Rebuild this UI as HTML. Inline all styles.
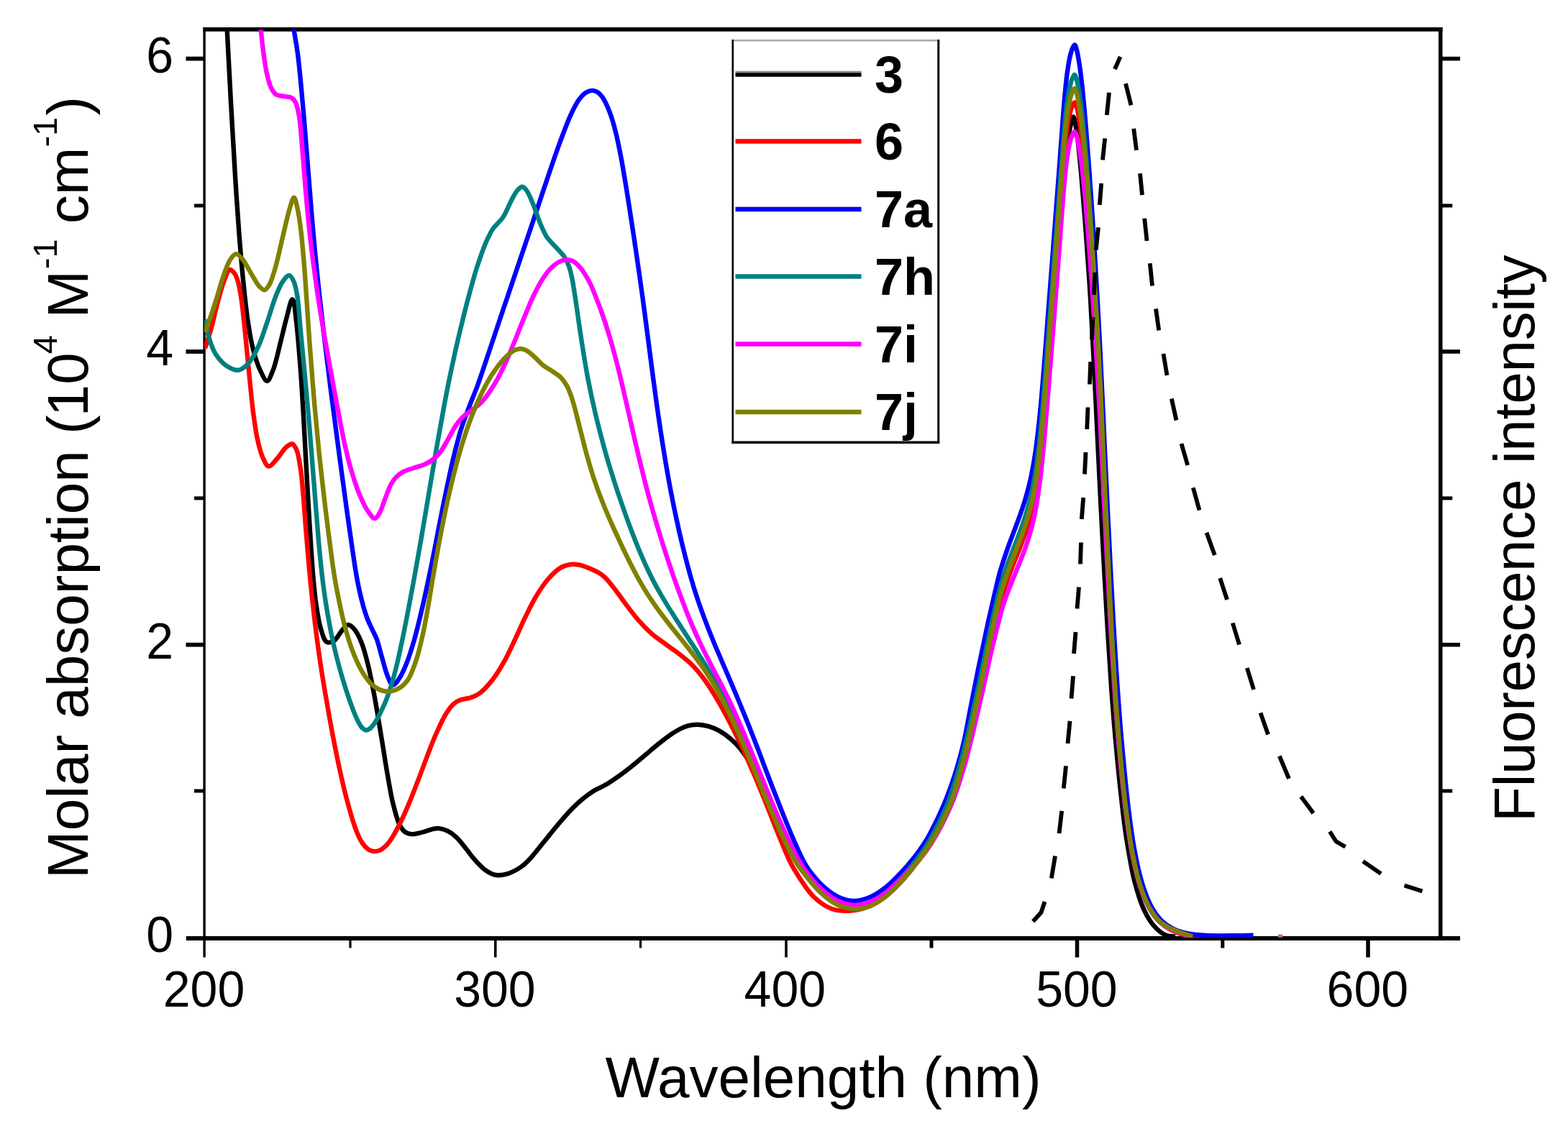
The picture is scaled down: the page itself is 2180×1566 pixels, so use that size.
<!DOCTYPE html>
<html lang="en"><head><meta charset="utf-8"><title>Absorption and fluorescence spectra</title>
<style>
html,body{margin:0;padding:0;background:#fff;}
body{width:2180px;height:1566px;overflow:hidden;}
svg{display:block;filter:blur(0.75px);}
text{font-family:"Liberation Sans",sans-serif;fill:#000;}
.tick{font-size:68px;}
.title{font-size:80px;}
.leg{font-size:72px;font-weight:bold;}
.crv{fill:none;stroke-width:6.4;stroke-linejoin:round;stroke-linecap:butt;}
.dash{fill:none;stroke:#000;stroke-width:5.8;stroke-linecap:butt;stroke-linejoin:round;}
.ax{stroke:#000;fill:none;}
</style></head><body>
<svg width="2180" height="1566" viewBox="0 0 2180 1566">
<rect width="2180" height="1566" fill="#fff"/>
<defs><clipPath id="plot"><rect x="284" y="41.5" width="1718.8" height="1262.8"/></clipPath></defs>
<g class="ax">
<line x1="282.5" y1="40.9" x2="2005.5" y2="40.9" stroke-width="5.75"/>
<line x1="258.75" y1="1305.0" x2="2030" y2="1305.0" stroke-width="6"/>
<line x1="284.1" y1="38" x2="284.1" y2="1331.5" stroke-width="3.4"/>
<line x1="2002.75" y1="38" x2="2002.75" y2="1308" stroke-width="5.5"/>
<line x1="258.5" y1="81.6" x2="284" y2="81.6" stroke-width="5.8"/>
<line x1="2004" y1="81.6" x2="2030" y2="81.6" stroke-width="5.6"/>
<line x1="258.5" y1="489.0" x2="284" y2="489.0" stroke-width="5.8"/>
<line x1="2004" y1="489.0" x2="2030" y2="489.0" stroke-width="5.6"/>
<line x1="258.5" y1="896.7" x2="284" y2="896.7" stroke-width="5.8"/>
<line x1="2004" y1="896.7" x2="2030" y2="896.7" stroke-width="5.6"/>
<line x1="270" y1="286.0" x2="284" y2="286.0" stroke-width="5"/>
<line x1="2004" y1="286.0" x2="2019.25" y2="286.0" stroke-width="5"/>
<line x1="270" y1="692.9" x2="284" y2="692.9" stroke-width="5"/>
<line x1="2004" y1="692.9" x2="2019.25" y2="692.9" stroke-width="5"/>
<line x1="270" y1="1100.0" x2="284" y2="1100.0" stroke-width="5"/>
<line x1="2004" y1="1100.0" x2="2019.25" y2="1100.0" stroke-width="5"/>
<line x1="688.75" y1="1306" x2="688.75" y2="1331.5" stroke-width="3.6"/>
<line x1="1093.0" y1="1306" x2="1093.0" y2="1331.5" stroke-width="3.6"/>
<line x1="1497.5" y1="1306" x2="1497.5" y2="1331.5" stroke-width="5.5"/>
<line x1="1902.0" y1="1306" x2="1902.0" y2="1331.5" stroke-width="5.5"/>
<line x1="487.0" y1="1306" x2="487.0" y2="1318.5" stroke-width="3.2"/>
<line x1="890.5" y1="1306" x2="890.5" y2="1318.5" stroke-width="3.2"/>
<line x1="1295.0" y1="1306" x2="1295.0" y2="1318.5" stroke-width="5"/>
<line x1="1699.8" y1="1306" x2="1699.8" y2="1318.5" stroke-width="5"/>
</g>
<g clip-path="url(#plot)">
<path id="c3" class="crv" stroke="#000000" d="M315.5 38C316.5 57 317.4 74.7 318.5 95C319.7 118.3 321.1 145 322.6 170C324 195 325.4 220 327 245C328.5 270 330.2 295.1 332.1 320C334 345.1 336.2 372 338.6 395C340.6 414.7 342.5 433.2 345.1 449.7C347.2 463.5 349.3 476 352.3 487.5C355 497.4 357.9 507 361.6 514.6C364.5 520.6 368.3 529.9 371.3 529.8C374.3 529.8 377.1 521.1 379.7 514.6C383.7 504.7 387 487.5 390.3 474.9C393.2 463.5 395.6 452.4 398.4 442.2C400.9 433 404.2 416.8 406.2 416.4C406.8 416.2 407.4 417.2 407.9 418.4C409.8 422.5 410.8 437.3 412.2 449.5C414.1 466.7 416.1 491.1 417.7 512C419.3 532.8 420.4 553.6 421.7 574.5C422.9 595.3 423.9 615.2 425.1 637C426.5 660.9 427.8 685.8 429.4 712C431.2 741.2 433.5 780.1 435.6 804.1C436.9 819.4 437.8 829.7 439.7 841.8C441.4 853.2 443.2 865.6 446.1 874.8C448.4 881.9 450.3 890.8 454.2 892.9C457 894.4 461.4 892.9 464.5 891.1C468.4 888.7 471.3 881.7 474.7 877.8C477.8 874.4 480.8 869.2 483.9 869C486.8 868.8 490 872.1 492.7 875.1C496.5 879.4 499.7 886.6 502.6 893.7C506.1 902.3 508.8 913.1 511.4 923.5C514.2 934.7 516.5 947 518.8 958.7C521.1 970.4 523 981.8 525.1 994C527.3 1006.9 529.5 1020.4 531.7 1034.1C534.1 1048.7 536.5 1064.9 539.1 1079.2C541.4 1092.4 543.4 1105.4 546.3 1117C548.7 1127 551.2 1137.5 554.5 1144.6C556.9 1149.7 559.2 1154 562.4 1156.6C565.2 1158.8 568.4 1159.8 572 1160.1C576.4 1160.5 582.2 1158.6 587 1157.5C591.7 1156.3 596.4 1154.2 600.5 1153.3C604 1152.6 606.9 1151.8 610.3 1152.1C614.1 1152.4 618.4 1153.8 622.3 1155.7C626.5 1157.7 630.5 1160.7 634.4 1164.3C639 1168.5 643.3 1174.6 647.5 1179.8C651.7 1184.9 655.2 1190.3 659.7 1195.2C664.4 1200.5 669.8 1206.6 675.2 1210.3C679.9 1213.6 684.7 1216.3 690 1217C695.3 1217.8 701.4 1216.5 707.1 1214.7C713.2 1212.7 720.3 1208.5 725.3 1205C729.4 1202.2 731.6 1199.9 735.3 1196C741 1190.1 748.7 1180 755.4 1171.8C762.1 1163.6 768.9 1154.9 775.6 1147C782 1139.5 788.5 1131.9 794.6 1125.6C799.9 1120.2 804.6 1115.6 809.9 1111.3C814.9 1107.1 820 1103.2 825.4 1099.9C830.7 1096.7 836.6 1094.7 841.9 1091.6C847.3 1088.5 852 1085.2 857.4 1081.4C863.7 1077 871 1071.4 877.4 1066.4C883.5 1061.5 889.3 1056.6 895.1 1051.7C900.9 1046.9 906.4 1042 912.2 1037.3C918 1032.6 924 1027.6 929.8 1023.6C935 1019.9 940.2 1016.5 945.1 1014C949.3 1011.9 953.3 1010.2 957.5 1009.2C961.6 1008.2 965.7 1007.7 970.1 1007.8C974.9 1007.9 980.2 1008.8 985.1 1010.2C990.1 1011.6 995.1 1013.8 1000 1016.4C1005.2 1019.3 1010.7 1023.2 1015.4 1027.2C1020 1031 1024.3 1035.3 1028 1039.7C1031.6 1044 1034.6 1048.2 1037.6 1052.9C1040.7 1057.9 1043.1 1062.7 1046.1 1068.9C1050.1 1077.2 1054.7 1088.8 1059 1098.8M1377 895C1381.6 875.4 1387.8 848.2 1390.9 836.2C1392.3 830.9 1392.8 829.2 1394.2 824.8C1396.2 818.4 1399.4 809.2 1402.1 801.7C1404.7 794.6 1407.4 787.9 1410.1 780.9C1412.9 773.8 1415.9 766.7 1418.7 759.3C1421.6 751.7 1424.5 744.1 1427.1 735.9C1429.9 727.1 1432.6 717.7 1434.9 708C1437.4 697.5 1439.4 686.9 1441.2 675.3C1443.3 662.2 1445 647.6 1446.7 633.2C1448.4 618 1449.7 602.9 1451.1 586.4C1452.8 568 1454.4 547.4 1455.9 527.9C1457.5 508.4 1459 488.2 1460.4 469.4C1461.8 451.8 1462.9 436.8 1464.3 418.4C1465.8 396.9 1467.7 369.2 1469.2 348.2C1470.4 331 1471.3 317 1472.4 301.4C1473.6 285.8 1474.7 269.7 1476.3 254.6C1477.8 240.2 1479.3 226.5 1481.5 212.7C1483.6 199 1486.7 180.9 1489 172.1C1490.2 167.7 1491.4 162.3 1492.4 162.4C1493.7 162.5 1494.9 171.4 1496.1 177.9C1497.9 188.4 1499.5 203.9 1501.1 220C1503.3 241.4 1505.5 269.9 1507.5 294.9C1509.5 319.9 1511.6 348.5 1513 369.9C1514.2 386 1514.8 396 1515.8 412.1C1517 433.5 1518.5 460.2 1519.9 487C1521.5 517.9 1523.3 556.1 1524.8 587C1526.1 613.8 1527.2 637 1528.4 662C1529.6 687 1530.9 712.7 1532.2 737C1533.4 760 1534.5 781.1 1535.8 804C1537.2 828.3 1538.6 854 1540.1 879C1541.6 904 1543.1 929 1544.9 954C1546.7 979 1548.6 1004 1550.9 1029C1553.1 1054 1555.8 1081.4 1558.3 1103.9C1560.3 1122.3 1562.4 1140.1 1564.3 1154.1C1565.7 1164.3 1566.7 1170.5 1568.4 1180.3C1570.7 1193.1 1573.4 1210.3 1577 1224.3C1580.4 1237.4 1584.1 1251 1589 1262C1593.2 1271.4 1597.9 1280.1 1603.6 1286.8C1608.5 1292.6 1614.7 1298 1620.4 1300.5C1624.9 1302.5 1629.5 1301.8 1634 1302.5"/>
<path id="c6" class="crv" stroke="#ff0000" d="M285 484.5C287.9 475.2 291.1 466.1 293.7 456.6C296.5 446.8 298.4 436.8 301.1 426.6C304 415.7 307.1 402.4 310.7 393.1C313.4 386 316.3 375.9 319.4 375.1C321.3 374.6 323.6 377.3 325.3 379.3C327.4 381.8 328.9 385.5 330.3 389.7C332.3 395.6 333.5 403.4 334.9 411.7C336.7 422.6 338 436.3 339.4 449.4C341 463.8 342.4 479.3 343.9 494.5C345.4 510.1 347.1 527.7 348.6 542C349.8 554 350.7 563.7 352.2 574.8C353.8 586.3 355.4 599.2 357.7 609.9C359.7 619.1 361.8 628.2 364.9 635.2C367.3 640.5 370.1 648.1 373.5 648.6C376.8 649 381.3 642.1 385.1 638C389.6 633.2 394 625 398.3 621.6C401.1 619.3 404.3 616.7 406.6 617.3C409.1 618 410.8 622.2 412.5 626.1C415 632.3 416.4 642.4 417.8 651.6C419.5 662.3 420.3 674 421.4 686.8C422.8 702.1 423.8 719.1 425.3 737C427 757.7 429 782.1 431.1 804C433.2 825.2 435.5 846.8 437.9 866.5C440 884.1 442.2 899.9 444.6 916.6C447 933.2 449.7 949.8 452.6 966.5C455.4 983.2 458.4 1000 461.5 1016.7C464.7 1033.4 468 1050.5 471.5 1066.7C474.9 1082.2 478.1 1097 482.1 1111.7C485.9 1126.1 490.6 1143.1 494.9 1154.1C497.8 1161.6 500.3 1167.5 503.7 1172.3C506.2 1176 509.1 1179.3 512.1 1181.3C514.6 1182.9 517.3 1183.9 519.9 1184.1C522.5 1184.3 525.3 1183.7 527.9 1182.6C530.8 1181.4 533.6 1179.1 536.3 1176.5C539.6 1173.3 542.4 1169.2 545.5 1164.4C549.6 1158.2 553.8 1149.7 557.8 1141.7C562 1133 566 1123.7 570 1114C574.3 1103.7 578.5 1092.4 582.7 1081.6C586.8 1070.7 590.9 1059.4 594.9 1049C598.7 1039.2 602.1 1030.1 606.2 1020.8C610.4 1011.6 615.1 1001 619.6 993.5C623.1 987.8 626.3 982.8 630.2 979.3C633.2 976.6 636.1 975.1 639.9 973.6C644.3 971.8 650.4 971.8 655.1 970.1C659.6 968.5 663.3 966.9 667.5 963.7C673.3 959.4 680 951.5 685.4 944.5C690.9 937.5 695.3 930 700 921.7C705.3 912.5 710.1 901.8 715 891.6C720.1 880.9 724.9 869.3 730 858.9C734.8 849.2 739.1 839.9 744.4 830.9C749.7 822.1 755.6 812.7 761.9 805.5C767.5 799.2 773.7 792.8 779.7 789.4C784.5 786.7 789.7 785.4 794.2 784.9C798.1 784.4 801.2 784.8 805.1 785.6C809.8 786.5 815.5 788.6 820.5 790.7C825.5 792.8 831.2 795.6 835.1 798.2C838.1 800.1 839.6 801.5 842.3 804.2C846.5 808.4 851.9 815.7 856.7 822C862 828.8 867.4 836.8 872.8 843.9C877.9 850.6 882.8 857.3 888.3 863.4C893.7 869.6 899.4 875.4 905.5 880.8C911.7 886.2 918.8 891 925.4 895.9C931.8 900.7 938.4 905 944.6 909.8C950.6 914.5 956.5 919 962 924.5C967.7 930.2 973 936.7 978.1 943.5C983.4 950.5 988.3 958.2 993.1 966.1C998.2 974.2 1003 983 1007.6 991.4C1012.1 999.7 1016.3 1007.9 1020.5 1016.3C1024.6 1024.6 1028.6 1032.8 1032.6 1041.5C1036.7 1050.4 1040.8 1059.6 1044.9 1069C1049.2 1078.8 1053.5 1088.9 1057.6 1099C1061.7 1109 1065.7 1119 1069.7 1129.1C1073.8 1139.2 1077.4 1148.8 1081.7 1159.3C1086.5 1170.9 1092.4 1186.1 1097.1 1195.8C1100.4 1202.5 1102.2 1206.1 1106.3 1212.5C1112.4 1222.3 1122.5 1238.8 1131.9 1247.8C1139.6 1255.1 1147.9 1261 1156.7 1264.1C1165 1267 1174.3 1267.2 1182.9 1266.6C1191.3 1266 1199.7 1264.1 1207.5 1260.9C1215.5 1257.8 1222.9 1253.1 1230.2 1247.6C1238.3 1241.6 1246.1 1233.6 1253.6 1225.5C1261.5 1217 1269.5 1206.8 1276.3 1197.7C1282.4 1189.7 1287 1183.8 1292.9 1174.1C1301.4 1159.9 1313 1138.9 1320.8 1119.6C1329 1099.3 1334 1079 1340.5 1054.9C1348.5 1024.9 1357.7 982.6 1364.3 953.4C1369.3 931.3 1372.5 914.5 1377 895C1381.4 875.4 1387.8 848.2 1390.9 836.2C1392.3 830.9 1392.8 829.2 1394.2 824.8C1396.2 818.4 1399.4 809.2 1402.1 801.7C1404.7 794.6 1407.4 787.9 1410.1 780.9C1412.9 773.8 1415.9 766.7 1418.7 759.3C1421.6 751.7 1424.5 744.1 1427.1 735.9C1429.9 727.1 1432.6 717.7 1434.9 708C1437.4 697.5 1439.4 686.9 1441.2 675.3C1443.3 662.2 1445.1 647.6 1446.7 633.2C1448.4 618 1449.7 602.9 1451.1 586.4C1452.8 568 1454.3 547.4 1455.9 527.9C1457.4 508.4 1459 488.2 1460.4 469.4C1461.7 451.8 1462.9 436.8 1464.3 418.4C1465.9 396.9 1468 369.2 1469.6 348.2C1470.9 331 1471.9 317 1473.1 301.4C1474.2 285.8 1475.4 269.8 1476.6 254.6C1477.7 240.2 1478.7 225.6 1480 212.5C1481.1 200.9 1482.1 189.5 1483.6 179.7C1484.7 171.6 1486 164 1487.5 157.8C1488.7 153.1 1490.2 148.3 1491.6 145.6C1492.4 144.1 1493.3 142.3 1494.1 142.4C1495.2 142.5 1496.1 146.1 1497 149.1C1498.7 154.5 1500.2 164.7 1501.4 172.6C1502.7 180.4 1503.6 188.3 1504.5 196.1C1505.4 203.9 1506.2 211.4 1507 219.6C1507.9 228.5 1508.6 237.3 1509.5 247.6C1510.6 260.2 1511.8 275.3 1512.9 289.7C1514.1 304.9 1515.3 322 1516.3 336.5C1517.2 349 1517.9 359.1 1518.7 371.6C1519.6 386.1 1520.7 402.5 1521.6 418.4C1522.6 434.9 1523.6 451.4 1524.6 468.9C1525.6 487.8 1526.9 510.7 1527.8 527.9C1528.5 541.1 1528.9 549.8 1529.6 563C1530.4 580 1531.4 602 1532.3 621.4C1533.2 640.9 1534.2 662.9 1535 679.9C1535.6 693.1 1536.1 702.5 1536.7 715C1537.4 729.5 1538.1 745.3 1539 761.8C1539.9 780.2 1541.1 804.4 1541.9 820.3C1542.4 831.2 1542.7 837 1543.3 847.9C1544.2 863.8 1545.4 886 1546.6 906.4C1547.9 928.7 1549.5 954.2 1551.1 976.5C1552.6 996.9 1554 1015.5 1555.8 1035C1557.5 1054.5 1559.4 1075.1 1561.4 1093.6C1563.2 1110.1 1564.8 1124.9 1567 1140.5C1569.1 1156.2 1571.4 1172.3 1574.3 1187.5C1577.2 1202 1580.2 1216.7 1584.4 1229.6C1588.1 1241.2 1592.3 1252.5 1597.4 1261.6C1601.7 1269.4 1606.5 1276.2 1612.1 1281.7C1617.2 1286.8 1622.9 1290.8 1629.1 1294C1635.5 1297.3 1643 1299.8 1649.8 1301.1C1655.9 1302.3 1661.9 1301.7 1668 1302"/>
<path id="c7a" class="crv" stroke="#0000ff" d="M408 38C410 50.4 412.1 60.8 414 75.2C416.5 94.8 418.8 121.3 420.9 145C423.2 169.5 425.1 195 427.1 219.9C429.1 244.9 431.1 271.1 433.1 294.9C434.9 316.8 436.7 337.4 438.7 357.5C440.5 376.3 442.2 392.5 444.3 412.1C446.8 435.1 450 462 453 486.9C456 512 459.1 537 462.4 562C465.6 587 469 612 472.3 637C475.7 662 479.4 689.5 482.5 712C485.1 730.4 487.3 746.3 489.7 762.2C491.8 776.8 493.8 791.1 496.2 804.1C498.4 815.5 500.6 826.3 503.3 836.3C505.6 845.1 508.2 853.9 510.9 861C513.1 866.6 515.5 871 517.7 875.8C519.8 880.4 522 884.1 524 889.4C526.5 896.4 528.6 906.1 531.1 914.4C533.6 923 535.9 933.1 538.8 940.1C541 945.3 543.3 952.7 546.1 953.1C548.6 953.4 551.9 948.2 554.6 944.3C558.5 938.8 562.2 930.2 565.5 921.9C569.5 912.2 572.8 900.8 576.1 889.4C579.7 876.8 582.9 863.1 586.1 849.3C589.6 834.7 593 818.8 596.1 804C599.1 789.7 601.5 777.3 604.6 761.9C608.3 743.1 612.6 720.2 616.9 699.4C621.2 678.6 625.9 655.4 630.3 637C633.9 622.3 637.1 609.5 640.9 597.3C644.2 586.7 647.8 577.7 651.6 567.7C655.4 557.4 659.5 548.2 663.8 536.5C669.1 522 675.4 502.5 680.6 487.2C685.1 473.9 688.9 462.2 693.1 449.7C697.3 437.1 701.2 425.8 705.9 411.9C711.6 394.8 718.9 373.4 725.1 355C731 337.8 736.4 321.6 742.1 304.8C747.7 288.1 753 271.7 758.9 254.6C764.9 236.8 771.5 216.8 777.7 200C783.1 185.4 788.5 170.5 793.7 159.3C797.6 151 801.1 143.8 805.1 138.4C808 134.4 810.9 131.2 814.1 129.1C816.9 127.3 820.1 126 822.9 125.9C825.5 125.7 828.2 126.5 830.5 127.9C833.1 129.4 835.2 131.7 837.5 135C841 139.9 844.7 148.4 847.6 155.8C850.8 164 853.2 172.6 855.6 182.2C858.6 193.6 861.2 207.2 863.6 219.8C866 232.3 867.9 244 870.1 257.5C872.6 273 875.4 290.8 877.9 307.4C880.5 324.1 882.9 340.4 885.4 357.4C888 375.2 890.7 394.3 893.2 412.1C895.5 429.1 897.5 444.4 899.8 462C902.4 481.7 905.3 504.8 907.9 524.4C910.3 542.1 912.4 557.9 914.8 574.5C917.2 591.2 919.7 607.9 922.4 624.5C925.1 641.2 928 658.3 931 674.5C933.9 690 936.8 704.8 940 719.5C943 733.9 946.2 748 949.7 762.1C953.2 776.2 957.1 791.3 960.8 804.1C963.9 815 966.6 823.7 970.1 834C973.8 845.2 978.4 857.7 982.7 868.9C986.7 879.4 990.5 888.7 994.8 899.1C999.5 910.3 1004.8 922.4 1009.8 934.1C1014.8 945.8 1019.8 957.2 1024.7 969.1C1029.8 981.4 1035 994 1040 1006.5C1045 1019 1049.7 1031.4 1054.7 1044.1C1059.7 1057.2 1064.7 1070.8 1069.8 1084.1C1074.9 1097.4 1080 1110.6 1085.3 1123.9C1090.6 1137.4 1096.4 1151.7 1101.8 1164.3C1106.7 1175.6 1112 1187.9 1116.4 1196.2C1119.3 1201.7 1121 1204.7 1124.5 1209.6C1129.5 1216.5 1137.4 1226.2 1144.5 1232.7C1151 1238.6 1157.9 1244 1165.2 1247.4C1172.2 1250.7 1180 1253 1187.4 1253C1194.9 1253 1202.5 1250.7 1209.8 1247.6C1217.7 1244.2 1225.7 1238.5 1233 1232.7C1240.3 1226.9 1247.1 1219.6 1253.6 1212.7C1259.9 1205.9 1266.1 1198.6 1271.4 1191.9C1276.1 1186 1280.2 1180.3 1284 1174.6C1287.5 1169.4 1289.8 1165.5 1293.2 1159C1298.7 1148.8 1306.7 1132.2 1312.4 1118.7C1317.9 1105.5 1322.7 1092 1327 1078.9C1331.1 1066.4 1334.9 1052.2 1337.6 1041.7C1339.6 1034 1340.6 1029 1342.2 1021.7C1344.1 1012.6 1345.7 1003.3 1348 991.4C1351.4 974.3 1356.1 949.8 1360.3 929C1364.5 908.3 1368.9 887.5 1373.5 866.7C1378.2 845.8 1384.8 816.8 1388 804C1389.4 798.3 1389.9 796.6 1391.3 791.8C1393.4 785 1396.6 775.1 1399.4 767.1C1402 759.5 1404.7 752.4 1407.5 744.9C1410.3 737.3 1413.4 729.7 1416.2 721.8C1419.1 713.7 1422 705.6 1424.7 696.9C1427.5 687.4 1430.3 677.4 1432.6 667C1435.1 655.8 1437.1 644.4 1439 632C1441.2 618 1443 602.5 1444.6 587.1C1446.4 570.9 1447.8 554.6 1449.3 537C1451 517.4 1452.7 495.4 1454.3 474.5C1455.9 453.7 1457.5 432.1 1459.1 412C1460.5 393.2 1461.8 377.1 1463.3 357.5C1465 334.5 1467.3 305 1469 282.5C1470.4 264.1 1471.5 249.2 1472.8 232.5C1474 215.8 1475.2 198.7 1476.5 182.5C1477.6 167.1 1478.7 151.5 1480 137.4C1481.1 125 1482.2 112.9 1483.6 102.4C1484.8 93.8 1486 85.6 1487.5 79C1488.7 74 1490.1 68.9 1491.6 66C1492.4 64.3 1493.4 62.3 1494.2 62.4C1495.2 62.5 1496.2 66.5 1497.1 69.8C1498.7 75.6 1500.2 86.5 1501.5 94.8C1502.7 103.2 1503.6 111.6 1504.5 119.9C1505.4 128.3 1506.2 136.3 1507 145C1507.9 154.6 1508.7 164 1509.6 175C1510.7 188.5 1511.9 204.6 1513.1 220C1514.3 236.2 1515.6 254.5 1516.7 270C1517.6 283.4 1518.3 294.1 1519.2 307.5C1520.2 323 1521.3 340.5 1522.3 357.5C1523.4 375.1 1524.4 392.8 1525.5 411.5C1526.6 431.7 1527.9 456.2 1528.9 474.5C1529.6 488.6 1530.1 497.9 1530.7 512C1531.6 530.2 1532.7 553.7 1533.7 574.5C1534.6 595.3 1535.7 618.8 1536.5 637C1537.2 651.1 1537.7 661.1 1538.3 674.5C1539.1 690 1539.9 706.9 1540.7 724.5C1541.7 744.2 1543 770 1543.8 787C1544.4 798.7 1544.7 804.8 1545.4 816.5C1546.3 833.5 1547.5 857.3 1548.8 879C1550.2 902.9 1551.9 930.1 1553.5 954C1555 975.8 1556.5 995.7 1558.2 1016.5C1560 1037.4 1562 1059.4 1564 1079.1C1565.7 1096.7 1567.4 1112.5 1569.5 1129.2C1571.6 1145.9 1573.8 1163.1 1576.8 1179.4C1579.6 1194.9 1582.6 1210.6 1586.7 1224.5C1590.4 1236.9 1594.5 1249.1 1599.7 1258.9C1604.1 1267.2 1608.9 1274.5 1614.6 1280.2C1619.8 1285.3 1625.7 1289.2 1631.9 1292.2C1638.1 1295.3 1644.8 1297 1652 1298.4C1659.9 1300 1668.3 1300.5 1677.3 1301C1687.5 1301.5 1699.1 1301.4 1710 1301.3C1720.8 1301.3 1731.7 1301 1742.5 1300.8"/>
<path id="c7h" class="crv" stroke="#008080" d="M285 444.5C286.9 453.1 288.1 462 290.7 470.2C293.1 478 295.7 486.1 299.9 492.6C303.8 498.8 309.1 504.8 314.6 508.6C319.7 512 326.2 515.4 331.4 514.8C336.3 514.3 340.9 510.1 345 505.8C350.2 500.3 354.5 491.6 358.6 483.1C363.3 473.2 366.8 461.4 370.8 449.9C375.2 437.5 379.4 421.8 383.7 411.2C386.8 403.5 389.3 396.8 392.9 391.8C395.7 388 399.4 382.7 402.1 382.9C404.6 383.1 406.8 388 408.5 391.8C410.9 396.9 411.9 403.4 413.3 411.6C415.4 424.5 416.4 444.2 418.1 461.8C420 481.6 422.1 502.7 424.1 524.5C426.2 548.4 428.6 574.5 430.7 599.5C432.8 624.6 434.7 649.6 436.7 674.6C438.7 699.6 440.7 726.6 442.7 749.6C444.5 769.2 446.1 786.2 448.2 804C450.3 821 452.7 837.8 455.5 854C458.1 869.5 461.2 884.8 464.5 899.1C467.5 912.3 470.6 924 474.2 936.7C478 949.9 482.7 964.9 487 976.7C490.4 986.3 494 995.9 497.4 1002.4C499.6 1006.7 501.6 1010.4 503.9 1012.6C505.4 1014.1 507 1015.4 508.8 1015.5C510.5 1015.7 512.4 1014.6 514.2 1013.3C516.5 1011.7 518.5 1009 520.9 1005.6C524.5 1000.4 528.9 991.5 532.4 983.9C536.1 976 539.2 967.7 542.1 958.9C545.3 949.5 547.9 939.7 550.6 929.2C553.5 917.5 556.2 904.7 558.9 891.8C561.9 878 564.7 863.4 567.4 849C570.3 834.2 573 819.7 575.9 803.9C579 786.7 582.2 768.3 585.5 749.6C589 729.5 592.6 707.8 596.1 687C599.7 666.1 603.1 645.2 606.7 624.4C610.4 603.6 614.2 581.7 617.9 562.1C621.2 544.5 624.3 528.7 627.9 512.1C631.4 495.3 635.2 478.5 639.2 461.8C643.2 445.1 647.4 427.7 651.7 411.8C655.7 397.1 659.6 382.6 663.8 369.6C667.6 358.1 671.4 346.8 675.4 337.6C678.7 330.2 681.4 324 685.5 318C689.5 312.2 695.2 308.3 699.4 302C704.2 294.8 708.1 283.7 712 276.7C714.8 271.7 717.2 266.8 720 263.9C722 261.8 724.3 259.5 726.3 259.7C728.4 259.8 730.4 262.5 732.3 265.1C735.2 269 737.7 275.7 740.4 282.1C743.8 290.2 747.2 301.5 750.8 309.9C753.9 317.1 756.3 323.7 760.3 329.7C764.3 335.5 770.2 340.7 774.5 345.5C778.1 349.6 781.7 352.7 784.4 356.8C787 360.8 789 365.1 790.7 369.7C792.5 374.5 793.6 379.1 794.9 385C796.6 392.6 797.7 401 799.5 411.9C802 428.4 805.5 454.7 808.6 474.3C811.4 492 813.9 507.9 817 524.6C820.2 541.3 823.7 557.9 827.6 574.5C831.5 591.1 836.2 608.9 840.4 624.3C844.2 637.9 847.7 649.7 851.7 662.2C855.6 674.8 859.8 687.4 864.1 699.8C868.4 712.3 872.8 724.7 877.5 737C882.2 749.5 887.5 762.8 892.6 774.5C897.1 785 901.6 794.6 906.3 804C910.7 812.7 915.1 820.5 920 829C925.3 838 931.3 847.6 937.1 856.8C942.9 865.9 949 875.3 954.8 884.2C960.2 892.5 965.5 900.6 970.6 908.6C975.5 916.4 980.1 923.7 984.8 931.6C989.8 940.1 995.1 949.3 999.9 958.1C1004.6 966.7 1008.7 974.8 1013.1 983.9C1018.1 994.1 1022.8 1004.7 1028 1016.5C1034 1030.3 1040.6 1046.3 1046.9 1061.5C1053.4 1077.2 1060 1094.1 1066.4 1109.3C1072.3 1123.3 1077.3 1135.7 1083.6 1149.5C1090.4 1164.3 1099.3 1183.8 1106 1195.2C1110.2 1202.4 1113 1205.9 1117.8 1212C1124 1219.9 1132.7 1230.9 1140.7 1238.1C1147.8 1244.5 1155 1250.2 1162.9 1253.8C1170.6 1257.3 1179.5 1259.6 1187.3 1259.8C1194.4 1260 1201 1258.5 1207.9 1255.9C1215.7 1252.9 1223.7 1247.5 1231.1 1241.8C1239 1235.7 1246.4 1227.8 1253.6 1220.2C1260.9 1212.4 1268.1 1203.5 1274.3 1195.4C1279.8 1188.2 1283.7 1183.2 1289 1174.3C1297.3 1160.4 1308.8 1139 1316.8 1119.2C1325.4 1098 1331.3 1076.2 1338.2 1050.6C1346.8 1018.6 1356.3 972.8 1363 941.8C1368 918.8 1371.1 901.6 1375.5 881.4C1379.9 861.2 1386.4 833.1 1389.5 820.8C1390.9 815.3 1391.4 813.5 1392.8 808.9C1394.8 802.3 1398 792.8 1400.7 785.1C1403.4 777.7 1406 770.8 1408.8 763.6C1411.6 756.2 1414.6 748.9 1417.4 741.3C1420.3 733.4 1423.2 725.6 1425.8 717.1C1428.7 708 1431.4 698.3 1433.7 688.3C1436.1 677.5 1438.1 666.5 1440 654.5C1442.1 641 1443.8 625.9 1445.5 611.1C1447.2 595.4 1448.5 579.7 1450 562.7C1451.6 543.6 1453.2 522.4 1454.8 502.2C1456.4 482.1 1458 461.3 1459.5 441.8C1460.9 423.7 1462.1 408.1 1463.5 389.1C1465.2 366.9 1467.5 338.4 1469.1 316.6C1470.5 298.9 1471.6 284.4 1472.8 268.3C1474 252.2 1475.2 235.6 1476.5 219.9C1477.6 205.1 1478.7 190 1480 176.4C1481.1 164.4 1482.2 152.7 1483.6 142.6C1484.8 134.2 1486 126.3 1487.6 119.9C1488.7 115.1 1490.2 110.2 1491.6 107.4C1492.4 105.8 1493.4 103.8 1494.2 103.9C1495.2 104.1 1496.1 107.9 1497 111C1498.7 116.6 1500.2 127.1 1501.4 135.2C1502.7 143.3 1503.6 151.4 1504.5 159.5C1505.4 167.6 1506.2 175.3 1507 183.7C1507.9 193 1508.7 202.1 1509.6 212.7C1510.6 225.8 1511.8 241.3 1512.9 256.2C1514.1 271.9 1515.3 289.6 1516.3 304.5C1517.2 317.5 1517.9 327.9 1518.7 340.8C1519.6 355.8 1520.5 372.7 1521.5 389.1C1522.4 406.2 1523.4 423.3 1524.3 441.3C1525.3 460.8 1526.5 484.5 1527.4 502.2C1528.1 515.9 1528.5 524.9 1529.1 538.5C1529.9 556.1 1530.9 578.8 1531.8 598.9C1532.8 619 1533.8 641.7 1534.6 659.3C1535.2 672.9 1535.6 682.6 1536.2 695.6C1536.9 710.5 1537.7 726.9 1538.5 743.9C1539.4 762.9 1540.6 787.9 1541.4 804.3C1542 815.6 1542.3 821.5 1542.8 832.8C1543.7 849.2 1544.9 872.2 1546.1 893.3C1547.5 916.3 1549 942.6 1550.6 965.7C1552.1 986.8 1553.5 1006 1555.3 1026.1C1557 1046.3 1558.9 1067.6 1560.9 1086.6C1562.7 1103.7 1564.3 1118.9 1566.5 1135.1C1568.6 1151.3 1570.8 1167.9 1573.8 1183.6C1576.7 1198.6 1579.7 1213.8 1583.8 1227.2C1587.5 1239.1 1591.6 1250.9 1596.7 1260.4C1601.1 1268.4 1605.8 1275.5 1611.5 1280.9C1616.7 1285.8 1622.4 1288.8 1629 1292.1C1636.6 1296 1646.3 1298.7 1655 1302"/>
<path id="c7i" class="crv" stroke="#ff00ff" d="M362.3 38C363.5 48.7 364.5 59.6 365.9 70.1C367.3 80.4 368.6 91.3 370.6 100.5C372.3 108.2 374.1 116.1 376.7 121.6C378.7 125.7 380.6 129.3 383.7 131.4C386.7 133.4 391.2 133.3 394.9 134C398.4 134.8 402.6 134.4 405.3 136C407.8 137.4 409.4 139.5 411 142.6C413.4 147.2 414.5 154.2 415.9 162.1C418 174 418.9 191 420.3 207.3C422 226.5 423.5 249.1 425.4 270C427.2 290.8 429 311.1 431.5 332.5C434.1 355.2 437.4 380.1 440.6 402.4C443.6 423.1 446.9 443 450.1 462C453.1 479.4 456 495.5 459.1 512.2C462.1 528.9 465.3 545.6 468.4 562.3C471.6 578.9 474.6 596.6 478 612C480.9 625.5 483.5 637.2 487.1 649.7C490.7 662.3 495 676.3 499.6 687.2C503.3 696.1 507.2 704.7 511.4 710.7C514.5 715.1 518.3 721.2 521.1 721.1C523.6 721 525.7 716.8 527.7 713.3C530.8 708.2 533.3 699 535.9 692.4C538.4 686.2 540.5 679.6 543.1 674.6C545.2 670.6 547.2 667.4 550 664.4C552.8 661.3 556.2 658.6 560.1 656.4C564.4 654 570 652.7 574.9 650.9C579.9 649.2 585.3 648.2 589.9 646.1C594.3 644.1 598.5 641.7 602.1 638.9C605.7 636.1 608.7 633.1 611.8 629.2C615.5 624.5 618.8 618 622.3 612C626 605.7 629.6 598.1 633.4 592.4C636.5 587.7 639.4 583.8 643 580.2C646.5 576.8 650.5 574.6 654.6 571.3C659.4 567.6 665 564.1 669.8 559.1C675.4 553.2 680.6 545.3 685.5 537.5C690.9 529 695.9 519.1 700.4 509.8C704.8 500.6 708.6 491.5 712.5 482C716.6 472.2 720.2 462.6 724.6 451.8C729.8 439.3 736.1 423.1 741.7 411.5C746.2 402.2 750 394.4 754.9 387.2C759.4 380.5 764.6 373.7 769.8 369.4C774 365.9 778.5 363.1 782.9 362C786.9 361 791.3 360.9 795.1 362.5C799.7 364.3 804.1 369.1 808 373.7C812.7 379.3 817.2 387.8 820.6 394.4C823.5 400.2 825.2 405.1 827.7 411.4C830.8 419 834.3 428.1 837.4 437.1C840.8 446.6 844 456.5 847.2 467.1C850.7 478.8 854.1 491.6 857.5 504.5C861 518.2 864.4 532.6 867.7 546.9C871.2 561.7 874.6 577.3 878 591.9C881.1 605.7 884.1 618.7 887.3 632.1C890.5 645.4 893.7 658.8 897.2 672.1C900.6 685.4 904.2 698.6 908 711.9C911.8 725.2 916.1 739.6 920 752C923.3 762.8 926.6 772.9 929.7 782.1C932.3 790 934.5 796.4 937.2 804.1C940.3 812.8 943.6 822.1 947.2 831.6C951.1 842 955.5 853.5 959.9 864C964.2 874.2 968.4 883.9 973.1 893.7C977.8 903.8 983 914 988 923.7C992.8 933.2 998 942.7 1002.5 951.5C1006.6 959.5 1009.9 966 1014 974.5C1019 985 1024.5 997.4 1029.9 1010C1036.1 1024.3 1042.6 1040.5 1048.9 1056C1055.4 1071.9 1061.9 1088.7 1068.3 1104.1C1074.2 1118.4 1079.5 1131.2 1085.7 1145.2C1092.4 1160 1100.8 1178.4 1107.3 1190.5C1111.8 1198.8 1114.8 1204 1119.9 1211.1C1125.9 1219.4 1134.2 1229.5 1142 1236.6C1149 1243 1156.2 1248.7 1164 1252.4C1171.4 1255.9 1179.7 1258.6 1187.4 1258.9C1194.6 1259.2 1201.7 1257.6 1208.7 1254.9C1216.6 1251.9 1224.7 1246.6 1232.2 1241C1240.2 1235.1 1247.6 1227.6 1255.1 1220.2C1262.9 1212.4 1271.5 1203.6 1278.3 1195.4C1284.4 1188.2 1288.6 1182.9 1294.3 1173.7C1302.9 1159.9 1314.6 1138.1 1322.6 1119.2C1330.6 1100.3 1335.7 1082.6 1342 1060.5C1349.9 1032.8 1358.6 993.3 1365 965.7C1369.9 944.5 1373.1 928.1 1377.5 909.3C1381.9 890.4 1388.4 864.2 1391.5 852.6C1392.9 847.4 1393.3 845.8 1394.7 841.5C1396.7 835.4 1399.9 826.5 1402.7 819.3C1405.3 812.4 1407.9 806 1410.7 799.2C1413.5 792.3 1416.5 785.4 1419.3 778.3C1422.2 771 1425.1 763.7 1427.7 755.8C1430.5 747.2 1433.2 738.2 1435.5 728.8C1438 718.7 1439.9 708.5 1441.8 697.3C1443.9 684.6 1445.6 670.6 1447.3 656.7C1449 642 1450.3 627.4 1451.8 611.5C1453.4 593.7 1455 573.9 1456.5 555C1458.1 536.2 1459.6 516.8 1461 498.6C1462.4 481.6 1463.5 467.1 1464.9 449.4C1466.5 428.6 1468.5 401.9 1470.1 381.6C1471.3 365.1 1472.3 351.5 1473.4 336.5C1474.6 321.4 1475.6 306 1476.8 291.3C1477.9 277.4 1478.9 263.3 1480.1 250.6C1481.2 239.4 1482.2 228.5 1483.6 219C1484.7 211.2 1486 203.8 1487.5 197.9C1488.7 193.3 1490.2 188.7 1491.6 186.1C1492.4 184.7 1493.3 182.9 1494.1 183C1495.2 183.2 1496.1 186.6 1497 189.5C1498.6 194.7 1500.2 204.6 1501.4 212.1C1502.7 219.7 1503.6 227.3 1504.5 234.8C1505.4 242.4 1506.1 249.6 1506.9 257.5C1507.8 266.1 1508.6 274.6 1509.4 284.6C1510.5 296.7 1511.7 311.3 1512.8 325.2C1513.9 339.8 1515.2 356.3 1516.2 370.3C1517.1 382.4 1517.7 392.1 1518.6 404.2C1519.5 418.2 1520.5 434 1521.5 449.4C1522.5 465.3 1523.5 481.2 1524.5 498.1C1525.6 516.4 1526.8 538.5 1527.8 555C1528.5 567.7 1528.9 576.2 1529.6 588.9C1530.4 605.3 1531.4 626.5 1532.4 645.3C1533.3 664.1 1534.3 685.3 1535.1 701.7C1535.8 714.5 1536.2 723.5 1536.8 735.6C1537.6 749.6 1538.4 764.9 1539.2 780.8C1540.1 798.5 1541.3 821.9 1542.2 837.2C1542.7 847.7 1543 853.3 1543.6 863.8C1544.5 879.2 1545.7 900.6 1547 920.3C1548.3 941.9 1549.9 966.5 1551.6 988C1553.1 1007.7 1554.5 1025.6 1556.2 1044.4C1558 1063.3 1559.9 1083.2 1561.9 1100.9C1563.7 1116.9 1565.4 1131.2 1567.5 1146.2C1569.7 1161.4 1571.9 1176.9 1574.9 1191.6C1577.7 1205.6 1580.8 1219.8 1584.9 1232.3C1588.6 1243.4 1592.8 1254.4 1597.9 1263.2C1602.2 1270.6 1607 1277.2 1612.6 1282.3C1617.8 1287.1 1623.6 1290.1 1629.9 1293.3C1636.7 1296.8 1644.6 1299.1 1652 1302"/>
<path id="c7j" class="crv" stroke="#808000" d="M285 462C288 453.6 291.2 445.1 294.1 436.7C296.9 428.3 299.5 420.3 302.2 411.5C305.2 402 308 390.7 311.3 381.8C314 374.3 316.6 366.3 320 361.3C322.4 357.6 325.3 353.3 328.1 353.1C330.9 353 334 356.9 336.9 360.2C341.3 365.3 346.1 375.7 350.3 382.4C353.9 388.2 357.1 394.8 360.6 398.4C362.9 400.8 365.5 403.6 367.8 403.3C370.2 403 372.5 399.2 374.6 395.6C378 389.8 380.5 380 383.3 370.5C386.9 358.2 390.1 341.5 393.5 327.7C396.6 314.7 399.7 299.7 402.8 290C404.8 283.6 407 274.6 408.8 274.7C410.6 274.7 412.2 283.9 413.6 289.9C415.5 298.2 416.9 308.6 418.3 319.9C420.1 334.4 421.6 354 423 369.9C424.2 384.6 424.9 396 426 412C427.5 433.4 429.3 461.9 431.2 486.9C433.1 511.9 435 537 437.2 562C439.4 587.1 441.8 612.1 444.4 637.1C447.1 662 450 687 453 711.9C456.1 736.9 460.4 770.8 462.7 786.9C463.9 794.7 464.3 797.5 465.4 804.2C467 813.3 469.2 825.7 471.6 836.7C474 848.2 476.5 860.3 479.6 871.7C482.6 882.8 485.8 893.9 489.7 904.2C493.4 913.9 497.6 923.8 502.1 931.8C506 938.6 510 944.8 514.6 949.5C518.5 953.5 522.8 957 527.3 959C531.4 960.9 535.9 962 540.3 961.7C545.2 961.5 550.9 959.6 555.4 956.8C560.1 953.9 564.2 949.8 567.7 944.4C572.4 937.4 575.6 927.2 578.9 917.2C582.7 905.8 585.7 892 588.5 879.3C591.2 866.8 593.3 854.2 595.5 841.6C597.7 829.1 599.4 817.8 601.7 804.1C604.6 787.5 607.9 768.1 611.5 749.3C615.4 729.1 619.6 707.5 624.4 686.8C629.2 666 634.6 644.1 640.4 624.6C645.7 606.9 651.4 589.9 657.5 574.5C662.9 561 668.9 547.8 674.7 536.9C679.4 528.1 683.8 520.8 688.9 513.8C693.7 507.2 699.1 500.5 704 495.9C707.8 492.2 711.7 489 715.3 487.2C718.2 485.8 720.9 485 723.7 485C726.4 485 729.1 485.9 731.9 487.3C735.5 489.2 739.2 492.9 743 496.3C747.1 499.9 751.4 505.2 755.7 508.6C759.4 511.5 763.2 513.1 767 515.7C771.2 518.5 776.1 521.4 779.7 525C783.2 528.5 785.9 532.5 788.4 537.1C791.2 542.2 793 547.6 795.4 554.7C798.9 565.2 802.5 581.2 805.9 594.2C809.3 606.9 812.2 619.8 815.6 631.9C818.7 643.1 821.7 653.6 825.3 664.4C828.9 675.3 833 686.5 837.2 697.1C841.2 707.4 845.3 716.9 849.8 727.1C854.5 737.7 860 749.5 864.7 759.6C869 768.6 873 777 877 784.8C880.5 791.7 883.5 797.6 887.2 804.2C891.2 811.4 895.6 819 900.3 826.4C905.1 833.8 910 841 915.5 848.6C921.5 856.9 928.4 865.6 935 874C941.6 882.4 948.5 890.6 955.1 899C961.6 907.4 968.4 916 974.4 924.5C980.1 932.5 985.2 940.1 990.5 948.7C996.2 958.2 1001.8 968.3 1007.4 979.1C1013.4 990.8 1019.3 1003.3 1025.3 1016.4C1031.8 1030.6 1038.3 1046.3 1044.8 1061.6C1051.4 1077.2 1058.1 1094 1064.5 1109.2C1070.4 1123.2 1075.5 1135.6 1081.8 1149.4C1088.7 1164.2 1097.5 1183.7 1104.2 1195.1C1108.6 1202.5 1111.4 1206.2 1116.2 1212.5C1122.6 1220.8 1131.4 1232.5 1139.6 1240.2C1146.9 1247.1 1154.2 1253.4 1162.4 1257.4C1170.1 1261.2 1179.4 1263.9 1187.3 1264.3C1194.3 1264.7 1200.6 1263.5 1207.3 1261.1C1215 1258.3 1222.9 1253.1 1230.3 1247.5C1238.4 1241.4 1246.1 1233.3 1253.6 1225.2C1261.4 1216.7 1269.5 1206.5 1276.3 1197.4C1282.4 1189.4 1287 1183.5 1292.9 1173.8C1301.5 1159.6 1313 1138.6 1320.8 1119.3C1329 1099 1334 1079 1340.5 1054.6C1348.7 1023.5 1357.9 978.1 1364.5 947.6C1369.4 924.9 1372.4 907.9 1376.8 888.1C1381.1 868.2 1387.6 840.6 1390.7 828.4C1392.1 823 1392.6 821.3 1393.9 816.8C1395.9 810.3 1399.1 800.9 1401.9 793.3C1404.5 786.1 1407.1 779.3 1409.8 772.2C1412.6 764.9 1415.6 757.7 1418.4 750.2C1421.3 742.4 1424.2 734.8 1426.8 726.4C1429.6 717.4 1432.3 707.9 1434.6 698C1437 687.4 1439 676.6 1440.8 664.8C1442.9 651.5 1444.6 636.7 1446.2 622C1447.9 606.6 1449.2 591.2 1450.7 574.4C1452.3 555.7 1453.8 534.8 1455.4 514.9C1456.9 495.1 1458.4 474.6 1459.9 455.5C1461.3 437.6 1462.4 422.3 1463.9 403.6C1465.5 381.7 1467.7 353.7 1469.3 332.3C1470.6 314.8 1471.7 300.5 1472.9 284.7C1474.1 268.8 1475.3 252.6 1476.5 237.1C1477.6 222.5 1478.7 207.6 1480 194.3C1481.1 182.5 1482.2 170.9 1483.6 160.9C1484.7 152.8 1486 145 1487.5 138.7C1488.7 133.9 1490.2 129.1 1491.6 126.3C1492.4 124.7 1493.4 122.9 1494.1 123C1495.2 123.1 1496.1 126.8 1497 129.9C1498.7 135.4 1500.2 145.8 1501.4 153.7C1502.7 161.7 1503.6 169.7 1504.5 177.6C1505.4 185.6 1506.2 193.2 1507 201.5C1507.9 210.6 1508.7 219.5 1509.6 230C1510.7 242.8 1511.9 258.2 1513.1 272.8C1514.3 288.2 1515.6 305.6 1516.7 320.4C1517.6 333.1 1518.3 343.3 1519.2 356.1C1520.2 370.8 1521.3 387.5 1522.3 403.6C1523.4 420.4 1524.4 437.2 1525.4 455C1526.6 474.2 1527.9 497.5 1528.8 514.9C1529.5 528.3 1529.9 537.2 1530.5 550.6C1531.3 567.9 1532.3 590.2 1533.1 610.1C1534 629.9 1534.9 652.2 1535.7 669.5C1536.3 682.9 1536.7 692.4 1537.3 705.2C1538 719.9 1538.7 736 1539.5 752.7C1540.4 771.5 1541.5 796.1 1542.3 812.2C1542.8 823.3 1543.1 829.2 1543.6 840.3C1544.5 856.4 1545.6 879 1546.8 899.8C1548.1 922.5 1549.6 948.4 1551.2 971.1C1552.6 991.8 1554.1 1010.7 1555.8 1030.5C1557.5 1050.4 1559.4 1071.3 1561.4 1090C1563.2 1106.8 1564.8 1121.9 1567 1137.8C1569.1 1153.7 1571.4 1170.1 1574.3 1185.5C1577.2 1200.2 1580.2 1215.2 1584.3 1228.4C1588 1240.2 1592.1 1251.8 1597.2 1261.1C1601.6 1269 1606.3 1276 1612 1281.3C1617.2 1286.1 1622.8 1289 1629.5 1292.2C1637.7 1296.2 1648.5 1299.1 1658 1302.5"/>
<rect x="1777" y="1299.5" width="6" height="4.5" fill="#b060a0"/>
<g class="dash">
<polyline points="1436.2,1281.5 1447.5,1269 1452.5,1254"/>
<line x1="1461.8" y1="1221.5" x2="1467" y2="1190.5"/>
<line x1="1472.5" y1="1159" x2="1476.2" y2="1127.8"/>
<line x1="1478.8" y1="1096.5" x2="1482" y2="1065.2"/>
<line x1="1484.5" y1="1034" x2="1487.5" y2="1002.8"/>
<line x1="1489.5" y1="971.5" x2="1492" y2="940.2"/>
<line x1="1493" y1="909" x2="1495.5" y2="879"/>
<line x1="1497.5" y1="846.5" x2="1500" y2="816.5"/>
<line x1="1502" y1="784.5" x2="1503" y2="754.5"/>
<line x1="1503.8" y1="722" x2="1506.2" y2="692"/>
<line x1="1508" y1="659.5" x2="1509.5" y2="629"/>
<line x1="1511.2" y1="597" x2="1512.5" y2="566.5"/>
<line x1="1515" y1="534.5" x2="1516.2" y2="503.2"/>
<line x1="1518" y1="472.5" x2="1519.5" y2="441"/>
<line x1="1521" y1="410" x2="1522.5" y2="378.8"/>
<line x1="1523.8" y1="347.5" x2="1527" y2="316.2"/>
<line x1="1528.8" y1="285" x2="1531.2" y2="255"/>
<line x1="1533" y1="222.5" x2="1536.2" y2="192.5"/>
<line x1="1538.8" y1="160" x2="1542" y2="128.8"/>
<line x1="1550" y1="96.2" x2="1557.5" y2="78.8"/>
<line x1="1565" y1="116.2" x2="1572.5" y2="146.2"/>
<line x1="1576.2" y1="178.8" x2="1580" y2="208.8"/>
<line x1="1585" y1="241.2" x2="1588" y2="271.2"/>
<line x1="1591.2" y1="303.8" x2="1594.5" y2="335"/>
<line x1="1598.8" y1="366.2" x2="1602" y2="397.5"/>
<line x1="1607" y1="429.5" x2="1611.2" y2="459.5"/>
<line x1="1617.5" y1="492" x2="1622.5" y2="522"/>
<line x1="1628.8" y1="554.5" x2="1635.5" y2="584.5"/>
<line x1="1642.5" y1="617" x2="1651.2" y2="647"/>
<line x1="1658.8" y1="678.2" x2="1667.5" y2="709.5"/>
<line x1="1677.5" y1="740.8" x2="1688.8" y2="772"/>
<line x1="1696.2" y1="804" x2="1706" y2="834"/>
<line x1="1713.8" y1="866.5" x2="1723" y2="896.5"/>
<line x1="1733.8" y1="929" x2="1743" y2="959"/>
<line x1="1752.5" y1="991.5" x2="1763" y2="1021.5"/>
<line x1="1778.8" y1="1051.5" x2="1792" y2="1082.8"/>
<line x1="1808.8" y1="1107.8" x2="1826" y2="1131"/>
<polyline points="1848.8,1156.5 1857.5,1170.2 1870.5,1177.8"/>
<line x1="1895" y1="1197.8" x2="1920" y2="1215.2"/>
<line x1="1952.5" y1="1231.5" x2="1977.5" y2="1239.5"/>
</g>
</g>
<text class="tick" text-anchor="end" transform="translate(241 100.8) scale(1 1.04)">6</text>
<text class="tick" text-anchor="end" transform="translate(241 508.2) scale(1 1.04)">4</text>
<text class="tick" text-anchor="end" transform="translate(241 915.9) scale(1 1.04)">2</text>
<text class="tick" text-anchor="end" transform="translate(241 1324.2) scale(1 1.04)">0</text>
<text class="tick" text-anchor="middle" transform="translate(283.5 1400.3) scale(1 1.04)">200</text>
<text class="tick" text-anchor="middle" transform="translate(687.9 1400.3) scale(1 1.04)">300</text>
<text class="tick" text-anchor="middle" transform="translate(1091.3 1400.3) scale(1 1.04)">400</text>
<text class="tick" text-anchor="middle" transform="translate(1496.9 1400.3) scale(1 1.04)">500</text>
<text class="tick" text-anchor="middle" transform="translate(1901.3 1400.3) scale(1 1.04)">600</text>
<text class="title" id="xt" x="841.5" y="1525.5">Wavelength (nm)</text>
<text class="title" id="yt" transform="translate(122 1222) rotate(-90)">Molar absorption (<tspan dx="-2">10</tspan><tspan font-size="47" dy="-43" dx="-2">4</tspan><tspan dy="43" dx="1.5"> M</tspan><tspan font-size="47" dy="-43" dx="1.5">-1</tspan><tspan dy="43" dx="-1"> cm</tspan><tspan font-size="47" dy="-43" dx="0">-1</tspan><tspan dy="43" dx="2">)</tspan></text>
<text class="title" id="rt" letter-spacing="-0.35" transform="translate(2132.5 1143) rotate(-90)">Fluorescence intensity</text>
<g>
<rect x="1018.75" y="56.25" width="286" height="558.75" fill="#fff" stroke="none"/>
<line x1="1017.5" y1="56.25" x2="1306.25" y2="56.25" stroke="#aaaaaa" stroke-width="2.5"/>
<line x1="1018.75" y1="55" x2="1018.75" y2="617" stroke="#000" stroke-width="2.6"/>
<line x1="1304.75" y1="55" x2="1304.75" y2="617" stroke="#000" stroke-width="3"/>
<line x1="1017.5" y1="615.2" x2="1306.25" y2="615.2" stroke="#000" stroke-width="3.5"/>
<line x1="1022.5" y1="100" x2="1197.5" y2="100" stroke="#8a8a8a" stroke-width="2.5"/>
<line x1="1022.5" y1="104.0" x2="1197.5" y2="104.0" stroke="#000000" stroke-width="5.6"/>
<text class="leg" x="1216" y="128.5">3</text>
<line x1="1022.5" y1="196.6" x2="1197.5" y2="196.6" stroke="#ff0000" stroke-width="6.5"/>
<text class="leg" x="1216" y="222.2">6</text>
<line x1="1022.5" y1="291.0" x2="1197.5" y2="291.0" stroke="#0000ff" stroke-width="6.5"/>
<text class="leg" x="1216" y="316.0">7a</text>
<line x1="1022.5" y1="384.5" x2="1197.5" y2="384.5" stroke="#008080" stroke-width="6.5"/>
<text class="leg" x="1216" y="409.8">7h</text>
<line x1="1022.5" y1="478.5" x2="1197.5" y2="478.5" stroke="#ff00ff" stroke-width="6.5"/>
<text class="leg" x="1216" y="504.4">7i</text>
<line x1="1022.5" y1="573.0" x2="1197.5" y2="573.0" stroke="#808000" stroke-width="6.5"/>
<text class="leg" x="1216" y="598.2">7j</text>
</g>
</svg></body></html>
